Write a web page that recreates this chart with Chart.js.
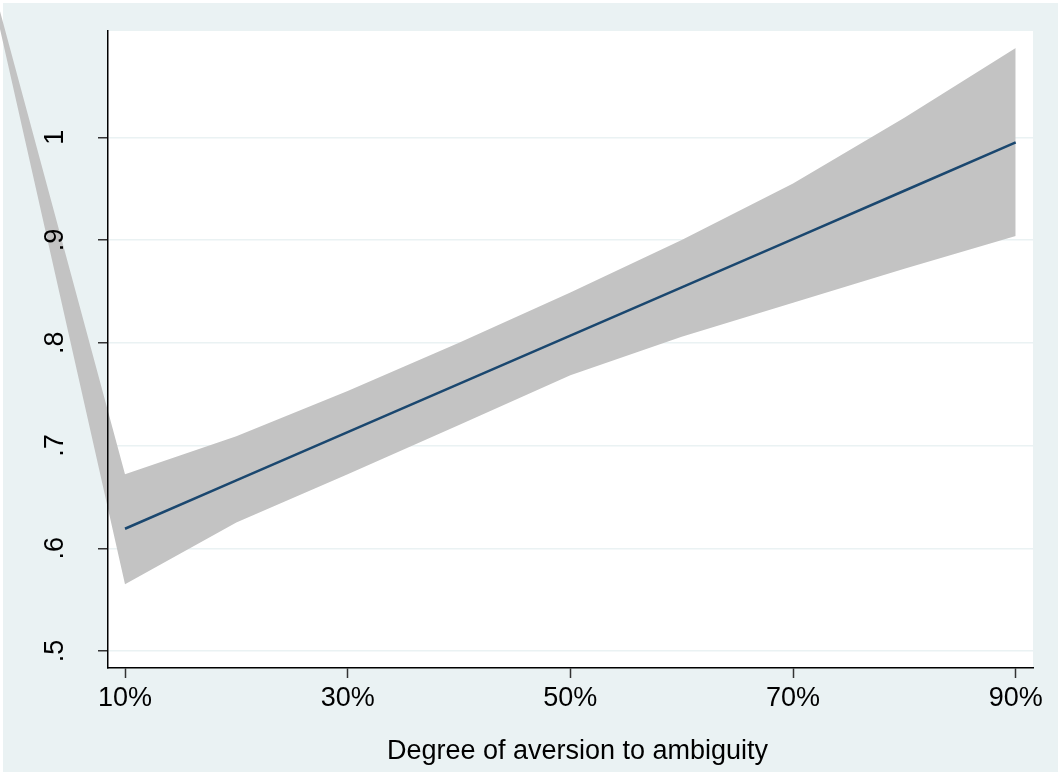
<!DOCTYPE html>
<html>
<head>
<meta charset="utf-8">
<script src="https://cdn.jsdelivr.net/npm/chart.js@4/dist/chart.umd.min.js"></script>
<style>
html,body{margin:0;padding:0;background:#ffffff;overflow:hidden}
canvas{display:block}
</style>
</head>
<body>
<canvas id="c" width="1058" height="772"></canvas>
<script>
// ---- data ----
const aversion = [10, 20, 30, 40, 50, 60, 70, 80, 90];
const fitted   = [0.619, 0.666, 0.713, 0.760, 0.807, 0.854, 0.901, 0.948, 0.995];
const upperCI  = [0.672, 0.709, 0.753, 0.800, 0.849, 0.900, 0.955, 1.019, 1.087];
const lowerCI  = [0.565, 0.625, 0.672, 0.720, 0.7685, 0.806, 0.839, 0.872, 0.904];
// stray first vertex of the confidence-band polygon (drawn outside the plot in the original)
const strayVertex = [-3.4, 1.21];
const xTicks = [10, 30, 50, 70, 90];
const xTickLabels = ['10%', '30%', '50%', '70%', '90%'];
const yTicks = [0.5, 0.6, 0.7, 0.8, 0.9, 1.0];
const yTickLabels = ['.5', '.6', '.7', '.8', '.9', '1'];
const xTitle = 'Degree of aversion to ambiguity';

// ---- style ----
const FONT = "'Liberation Sans', Arial, sans-serif";
const BG = 'rgb(234,242,243)';
const GRID = 'rgb(234,242,243)';
const BAND = 'rgb(195,195,195)';
const LINE = 'rgb(26,71,111)';

const toPts = (xs, ys) => xs.map((x, i) => ({x: x, y: ys[i]}));
const withStray = pts => [{x: strayVertex[0], y: strayVertex[1]}].concat(pts);

const stataBackground = {
  id: 'stataBackground',
  beforeDraw(chart) {
    const {ctx, width, height, chartArea: a} = chart;
    ctx.save();
    ctx.fillStyle = '#ffffff';
    ctx.fillRect(0, 0, width, height);
    ctx.fillStyle = BG;
    ctx.fillRect(3, 3, width - 3, height - 3);
    ctx.fillStyle = '#ffffff';
    ctx.fillRect(a.left, a.top, a.right - a.left, a.bottom - a.top);
    ctx.restore();
  }
};
// the original band spills outside the plot region; let the fill draw over the whole canvas
const unclippedBand = {
  id: 'unclippedBand',
  beforeDatasetsDraw(chart) {
    chart._savedArea = chart.chartArea;
    chart.chartArea = {left: 0, top: 0, right: chart.width, bottom: chart.height, width: chart.width, height: chart.height};
  },
  afterDatasetsDraw(chart) {
    chart.chartArea = chart._savedArea;
  }
};

new Chart(document.getElementById('c'), {
  type: 'line',
  data: {
    datasets: [
      {
        label: 'Prediction',
        data: toPts(aversion, fitted),
        borderColor: LINE,
        borderWidth: 2.5,
        pointRadius: 0,
        fill: false,
        tension: 0
      },
      {
        label: 'Upper',
        data: withStray(toPts(aversion, upperCI)),
        borderWidth: 0,
        borderColor: 'rgba(0,0,0,0)',
        backgroundColor: BAND,
        pointRadius: 0,
        fill: '+1',
        clip: false,
        tension: 0
      },
      {
        label: 'Lower',
        data: withStray(toPts(aversion, lowerCI)),
        borderWidth: 0,
        borderColor: 'rgba(0,0,0,0)',
        pointRadius: 0,
        fill: false,
        clip: false,
        tension: 0
      }
    ]
  },
  options: {
    responsive: false,
    devicePixelRatio: 1,
    animation: false,
    events: [],
    layout: {padding: {left: 0, top: 31, right: 25, bottom: 0}},
    plugins: {legend: {display: false}, tooltip: {enabled: false}, title: {display: false}},
    scales: {
      x: {
        type: 'linear',
        clip: false,
        min: 8.473,
        max: 91.554,
        afterBuildTicks: s => { s.ticks = xTicks.map(v => ({value: v})); },
        afterFit: s => { s.height = 104; s.paddingLeft = 0; s.paddingRight = 0; },
        afterUpdate: s => {
          if (s._titleShifted) return;
          s._titleShifted = true;
          const orig = s.drawTitle;
          s.drawTitle = function () {
            this.ctx.save();
            this.ctx.translate(7, 0);
            orig.call(this);
            this.ctx.restore();
          };
        },
        grid: {drawOnChartArea: false, drawTicks: true, tickLength: 10, tickColor: '#333333', tickWidth: 1.5},
        border: {display: true, color: '#000000', width: 1.5, z: 1},
        ticks: {
          autoSkip: false, maxRotation: 0, padding: 4, color: '#000000',
          font: {family: FONT, size: 27},
          callback: v => xTickLabels[xTicks.indexOf(v)]
        },
        title: {display: true, text: xTitle, color: '#000000', font: {family: FONT, size: 27}, padding: {top: 0, bottom: 4.5}}
      },
      y: {
        type: 'linear',
        clip: false,
        min: 0.48345,
        max: 1.1035,
        afterBuildTicks: s => { s.ticks = yTicks.map(v => ({value: v})); },
        afterFit: s => { s.width = 108; s.paddingTop = 0; s.paddingBottom = 0; },
        grid: {color: GRID, lineWidth: 1.5, drawTicks: true, tickLength: 10, tickColor: '#333333', tickWidth: 1.5},
        border: {display: true, color: '#000000', width: 1.5, z: 1},
        ticks: {
          autoSkip: false, minRotation: 90, maxRotation: 90, crossAlign: 'center', padding: 31,
          color: '#000000', font: {family: FONT, size: 27}, z: 1,
          callback: v => yTickLabels[yTicks.indexOf(v)]
        }
      }
    }
  },
  plugins: [stataBackground, unclippedBand]
});
</script>
</body>
</html>
